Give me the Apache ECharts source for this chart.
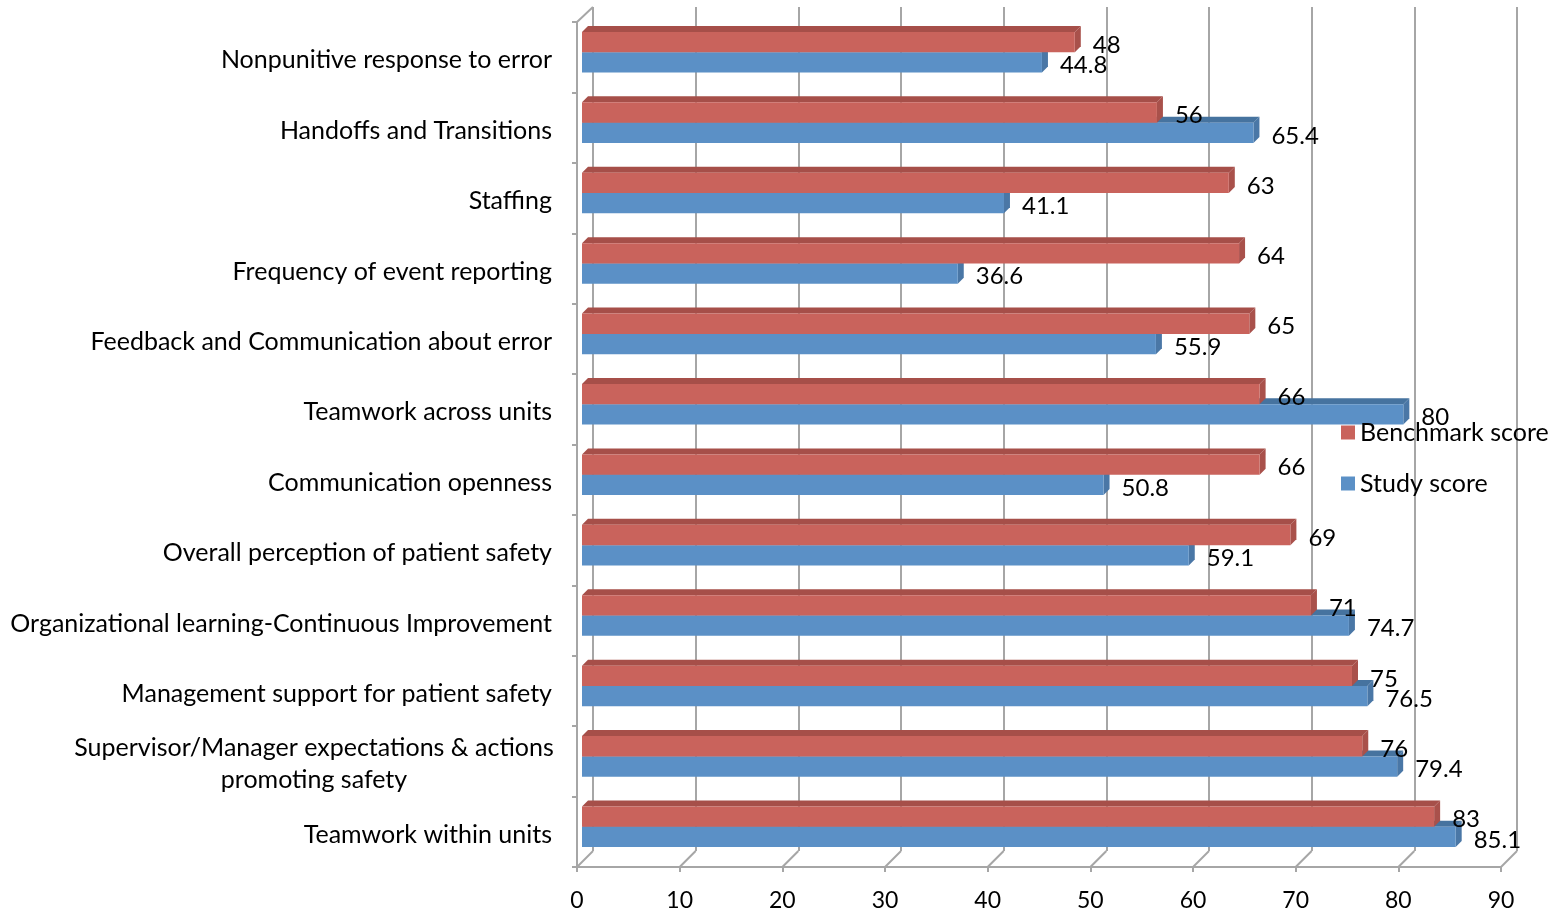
<!DOCTYPE html>
<html>
<head>
<meta charset="utf-8">
<script src="https://cdn.jsdelivr.net/npm/echarts@6/dist/echarts.min.js"></script>
<style>
  html, body { margin: 0; padding: 0; background: #fff; }
  #chart { width: 1562px; height: 914px; }
</style>
</head>
<body>
<div id="chart"></div>
<script>
// Patient safety culture dimensions, listed top to bottom
const categories = [
  'Nonpunitive response to error',
  'Handoffs and Transitions',
  'Staffing',
  'Frequency of event reporting',
  'Feedback and Communication about error',
  'Teamwork across units',
  'Communication openness',
  'Overall perception of patient safety',
  'Organizational learning-Continuous Improvement',
  'Management support for patient safety',
  'Supervisor/Manager expectations & actions promoting safety',
  'Teamwork within units'
];
const benchmarkScore = [48, 56, 63, 64, 65, 66, 66, 69, 71, 75, 76, 83];
const studyScore = [44.8, 65.4, 41.1, 36.6, 55.9, 80, 50.8, 59.1, 74.7, 76.5, 79.4, 85.1];
const xTicks = [0, 10, 20, 30, 40, 50, 60, 70, 80, 90];

const FONT = 'Lato, "Noto Sans", sans-serif';
const GRID_GRAY = '#A6A6A6';
const DEPTH = 6;        // bar extrusion
const BAR_W = 20.3;     // bar thickness
const WALL_DX = 16;     // front-to-back offset of the frame

const palette = {
  bench: { front: '#C9635C', top: '#A64F49', side: '#A9514B' },
  study: { front: '#5B90C6', top: '#46739F', side: '#4A77A6' }
};

function makeBar(colors, upper) {
  return function (params, api) {
    const val = api.value(0);
    const cat = api.value(1);
    const p0 = api.coord([0, cat]);
    const p1 = api.coord([val, cat]);
    const x0 = p0[0], x1 = p1[0];
    const top = upper ? p0[1] - BAR_W : p0[1];
    const bot = top + BAR_W;
    const d = DEPTH;
    return {
      type: 'group',
      children: [
        { type: 'polygon', shape: { points: [[x0, top], [x0 + d, top - d], [x1 + d, top - d], [x1, top]] },
          style: { fill: colors.top } },
        { type: 'polygon', shape: { points: [[x1, top], [x1 + d, top - d], [x1 + d, bot - d], [x1, bot]] },
          style: { fill: colors.side } },
        { type: 'rect', shape: { x: x0, y: top, width: x1 - x0, height: BAR_W },
          style: { fill: colors.front } },
        { type: 'text', x: x1 + d + 12, y: (top + bot) / 2 + 3,
          style: { text: String(val), fill: '#000', font: '24px ' + FONT,
                   textAlign: 'left', textVerticalAlign: 'middle' }, z2: 10 }
      ]
    };
  };
}

// diagonal floor lines joining front ticks to the back wall
function floorLines(params, api) {
  const cs = params.coordSys;
  const x = api.coord([api.value(0), 0])[0];
  const bottom = cs.y + cs.height;
  const children = [
    { type: 'line', shape: { x1: x, y1: bottom, x2: x + WALL_DX, y2: bottom - 16 },
      style: { stroke: GRID_GRAY, lineWidth: 2 } }
  ];
  if (params.dataIndex === 0) {
    children.push({ type: 'line', shape: { x1: x, y1: cs.y, x2: x + WALL_DX, y2: cs.y - 15 },
      style: { stroke: GRID_GRAY, lineWidth: 2 } });
  }
  return { type: 'group', children };
}

const chart = echarts.init(document.getElementById('chart'));
const plotW = 924;

chart.setOption({
  backgroundColor: '#fff',
  animation: false,
  legend: {
    orient: 'vertical',
    left: 1336,
    top: 415,
    icon: 'rect',
    itemWidth: 14,
    itemHeight: 14,
    itemGap: 26,
    textStyle: { fontSize: 25, fontFamily: FONT, color: '#000' },
    data: ['Benchmark score', 'Study score']
  },
  grid: [
    // bar plane
    { left: 582, top: 17, width: plotW, height: 845 },
    // front axes
    { left: 577, top: 22, width: plotW, height: 845 },
    // back wall
    { left: 577 + WALL_DX, top: 7, width: plotW, height: 844 }
  ],
  xAxis: [
    { gridIndex: 0, type: 'value', min: 0, max: 90, interval: 10, show: false },
    { gridIndex: 1, type: 'value', min: 0, max: 90, interval: 10,
      axisLine: { show: true, lineStyle: { color: GRID_GRAY, width: 2 } },
      axisTick: { show: true, length: 5, lineStyle: { color: GRID_GRAY, width: 2 } },
      splitLine: { show: false },
      axisLabel: { margin: 22, fontSize: 23, fontFamily: FONT, color: '#000',
                   formatter: (v) => xTicks.includes(v) ? String(v) : '' } },
    { gridIndex: 2, type: 'value', min: 0, max: 90, interval: 10,
      axisLine: { show: false }, axisTick: { show: false }, axisLabel: { show: false },
      splitLine: { show: true, lineStyle: { color: GRID_GRAY, width: 2 } } }
  ],
  yAxis: [
    { gridIndex: 0, type: 'category', inverse: true, data: categories, show: false },
    { gridIndex: 1, type: 'category', inverse: true, data: categories,
      axisLine: { show: true, lineStyle: { color: GRID_GRAY, width: 2 } },
      axisTick: { show: true, length: 5, lineStyle: { color: GRID_GRAY, width: 2 } },
      axisLabel: {
        margin: 25, fontSize: 25, fontFamily: FONT, color: '#000',
        padding: [6, 0, 0, 0],
        formatter: function (v) {
          if (v.indexOf('promoting safety') > 0) {
            return '{c|Supervisor/Manager expectations & actions}\n{c|promoting safety}';
          }
          return v;
        },
        rich: { c: { width: 476, align: 'center', fontSize: 25, fontFamily: FONT, color: '#000', lineHeight: 32 } }
      } },
    { gridIndex: 2, type: 'category', inverse: true, data: categories, show: false }
  ],
  series: [
    { type: 'custom', name: 'floor', xAxisIndex: 1, yAxisIndex: 1, silent: true,
      data: xTicks.map((v) => [v, 0]), renderItem: floorLines, z: 1 },
    { type: 'custom', name: 'Study score', xAxisIndex: 0, yAxisIndex: 0,
      itemStyle: { color: palette.study.front },
      data: studyScore.map((v, i) => [v, i]), encode: { x: 0, y: 1 },
      renderItem: makeBar(palette.study, false), z: 3 },
    { type: 'custom', name: 'Benchmark score', xAxisIndex: 0, yAxisIndex: 0,
      itemStyle: { color: palette.bench.front },
      data: benchmarkScore.map((v, i) => [v, i]), encode: { x: 0, y: 1 },
      renderItem: makeBar(palette.bench, true), z: 4 }
  ]
});
</script>
</body>
</html>
